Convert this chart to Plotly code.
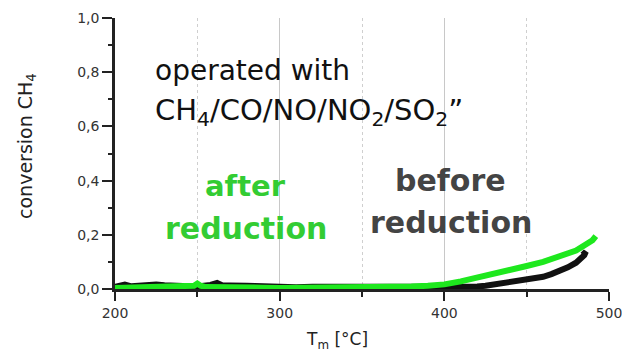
import plotly.graph_objects as go

# --- data ---
x_before = [200, 203, 206, 210, 215, 220, 225, 230, 235, 240, 245, 250, 255, 258, 262, 265, 270, 275, 280,
            285, 290, 295, 300, 310, 320, 330, 340, 350, 360, 370, 380, 390, 400, 405, 410, 415, 420, 425,
            430, 435, 440, 445, 450, 455, 460, 465, 470, 475, 480, 483, 485, 486, 484]
y_before = [0.008, 0.012, 0.016, 0.010, 0.012, 0.016, 0.017, 0.014, 0.011, 0.012, 0.010, 0.009, 0.012, 0.015,
            0.022, 0.014, 0.013, 0.010, 0.012, 0.011, 0.009, 0.010, 0.007, 0.006, 0.008, 0.008, 0.009, 0.009,
            0.008, 0.007, 0.006, 0.005, 0.004, 0.004, 0.004, 0.006, 0.009, 0.012, 0.016, 0.020, 0.024, 0.028,
            0.032, 0.038, 0.045, 0.055, 0.066, 0.080, 0.097, 0.110, 0.125, 0.138, 0.126]

x_after = [200, 205, 210, 215, 220, 225, 230, 235, 240, 245, 248, 250, 252, 255, 260, 265, 270, 280, 290, 300,
           310, 320, 330, 340, 350, 360, 370, 380, 390, 400, 410, 420, 430, 440, 450, 460, 465, 470, 480, 490, 492]
y_after = [0.004, 0.005, 0.006, 0.006, 0.007, 0.007, 0.006, 0.008, 0.007, 0.008, 0.012, 0.020, 0.012, 0.007,
           0.006, 0.006, 0.005, 0.005, 0.005, 0.004, 0.004, 0.004, 0.004, 0.005, 0.005, 0.006, 0.007, 0.009,
           0.012, 0.017, 0.028, 0.041, 0.055, 0.070, 0.085, 0.100, 0.110, 0.118, 0.142, 0.180, 0.195]

x_major_ticks = [200, 300, 400, 500]
x_minor_ticks = [250, 350, 450]
y_major_ticks = [0.0, 0.2, 0.4, 0.6, 0.8, 1.0]

FONT = "DejaVu Sans"

fig = go.Figure()
fig.add_trace(go.Scatter(x=x_before, y=y_before, mode="lines",
                         line=dict(color="#111111", width=6), hoverinfo="skip"))
fig.add_trace(go.Scatter(x=x_after, y=y_after, mode="lines",
                         line=dict(color="#1ee81e", width=6), hoverinfo="skip"))

fig.update_layout(
    width=622, height=355,
    margin=dict(l=115, r=13, t=18, b=66),
    paper_bgcolor="white", plot_bgcolor="white",
    showlegend=False,
    separators=",.",
    font=dict(family=FONT, color="#333333"),
)

fig.update_xaxes(
    range=[200, 500], tickvals=x_major_ticks, ticktext=[str(v) for v in x_major_ticks],
    ticklabeloverflow="allow", automargin=False,
    showline=True, linecolor="#222222", linewidth=2.5,
    ticks="outside", ticklen=9, tickwidth=2, tickcolor="#222222",
    tickfont=dict(size=14, color="#333333", family=FONT),
    showgrid=True, gridcolor="#c8c8c8", gridwidth=1.2,
    zeroline=False,
    minor=dict(tickvals=x_minor_ticks, ticks="outside", ticklen=5, tickwidth=2, tickcolor="#222222",
               showgrid=True, gridcolor="#cfcfcf", griddash="dot", gridwidth=1),
)

fig.update_yaxes(
    range=[0, 1], tickvals=y_major_ticks, tickformat=".1f", automargin=False,
    showline=True, linecolor="#222222", linewidth=2.5,
    ticks="outside", ticklen=10, tickwidth=2, tickcolor="#222222",
    tickfont=dict(size=14, color="#333333", family=FONT),
    showgrid=False, zeroline=False,
    minor=dict(dtick=0.1, ticks="outside", ticklen=4, tickwidth=2, tickcolor="#222222", showgrid=False),
)

# axis titles
fig.add_annotation(x=0.45, y=-0.19, xref="paper", yref="paper", xanchor="center", yanchor="middle",
                   text="T<sub>m</sub> [°C]", showarrow=False,
                   font=dict(size=17, color="#222222", family=FONT))
fig.add_annotation(x=-0.178, y=0.528, xref="paper", yref="paper", xanchor="center", yanchor="middle",
                   text="conversion CH<sub>4</sub>", showarrow=False, textangle=-90,
                   font=dict(size=19, color="#222222", family=FONT))

# text annotations
fig.add_annotation(x=223, y=0.805, xref="x", yref="y", xanchor="left", yanchor="middle",
                   text="operated with", showarrow=False,
                   font=dict(size=28, color="#111111", family=FONT))
fig.add_annotation(x=223, y=0.655, xref="x", yref="y", xanchor="left", yanchor="middle",
                   text="CH<sub>4</sub>/CO/NO/NO<sub>2</sub>/SO<sub>2</sub>”", showarrow=False,
                   font=dict(size=29, color="#111111", family=FONT))

fig.add_annotation(x=279.5, y=0.38, xref="x", yref="y", xanchor="center", yanchor="middle",
                   text="<b>after</b>", showarrow=False,
                   font=dict(size=29, color="#33cc33", family=FONT))
fig.add_annotation(x=279.5, y=0.225, xref="x", yref="y", xanchor="center", yanchor="middle",
                   text="<b>reduction</b>", showarrow=False,
                   font=dict(size=30, color="#33cc33", family=FONT))
fig.add_annotation(x=404, y=0.40, xref="x", yref="y", xanchor="center", yanchor="middle",
                   text="<b>before</b>", showarrow=False,
                   font=dict(size=30, color="#444444", family=FONT))
fig.add_annotation(x=404, y=0.245, xref="x", yref="y", xanchor="center", yanchor="middle",
                   text="<b>reduction</b>", showarrow=False,
                   font=dict(size=30, color="#444444", family=FONT))

fig.write_html("out.html")
